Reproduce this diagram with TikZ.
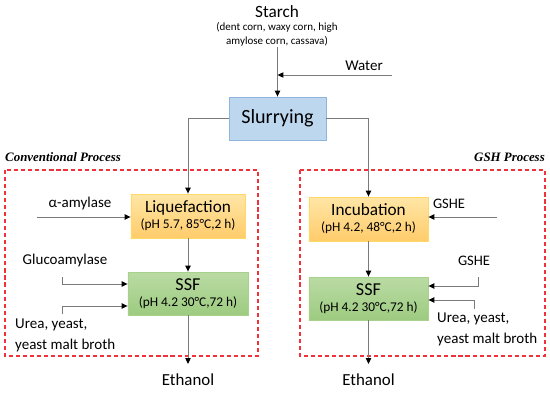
\documentclass[tikz,border=0pt]{standalone}
\usepackage{fontspec}
\setmainfont{Carlito}
\newfontfamily\titlefont{Liberation Serif}
\usepackage{tikz}
\usetikzlibrary{arrows.meta,positioning,calc}
\definecolor{slurfill}{HTML}{BDD7EE}
\definecolor{slurline}{HTML}{8FB4DE}
\definecolor{liqtop}{HTML}{FFE6A6}
\definecolor{liqbot}{HTML}{FFCC6B}
\definecolor{liqline}{HTML}{FFD966}
\definecolor{ssftop}{HTML}{BADBA4}
\definecolor{ssfbot}{HTML}{9DCB80}
\definecolor{ssfline}{HTML}{A9D18E}
\definecolor{flow}{HTML}{7A7A7A}
\definecolor{frame}{HTML}{F0323A}
\newcommand\condfont{\fontsize{11.4}{13}\selectfont}

\tikzset{
  flowarrow/.style={draw=flow, line width=0.8pt, -{Triangle[length=5pt, width=4.5pt, color=black]}},
  procbox/.style={align=center, inner sep=0pt, line width=0.7pt},
  liqbox/.style={procbox, draw=liqline, top color=liqtop, bottom color=liqbot},
  ssfbox/.style={procbox, draw=ssfline, top color=ssftop, bottom color=ssfbot},
  frame/.style={draw=frame, line width=0.9pt, dash pattern=on 3.5pt off 2.5pt},
  lbl/.style={font=\fontsize{12.8}{15}\selectfont, inner sep=0pt},
  product/.style={font=\fontsize{14.4}{16}\selectfont, inner xsep=0pt, inner ysep=8.5pt, anchor=north}
}

\begin{document}
\begin{tikzpicture}[x=0.03cm, y=-0.03cm]
\useasboundingbox (0,0) rectangle (550,393);

% feed
\node[font=\fontsize{14.7}{16}\selectfont, inner sep=0pt] (starch) at (277,12) {Starch};
\node[font=\fontsize{9.4}{12.5}\selectfont, align=center, inner sep=0pt, below=3pt of starch] (starchsub) {(dent corn, waxy corn, high\\amylose corn, cassava)};
\node[procbox, draw=slurline, fill=slurfill, minimum width=2.91cm, minimum height=1.29cm,
      font=\fontsize{17.2}{20}\selectfont] (slurry) at (277.5,118.5) {Slurrying};
\node[lbl, anchor=south east] (water) at (383,71) {Water};
\coordinate (waterin) at (392,75);

\draw[flowarrow] (starchsub.south -| slurry.north) -- (slurry.north);
\draw[flowarrow] (waterin) -- (waterin -| slurry.north);

% process frames
\draw[frame] (5,170) rectangle (258,356);
\draw[frame] (300,170) rectangle (545,356);
\node[anchor=west, inner sep=0pt, font=\titlefont\bfseries\itshape\fontsize{11}{13}\selectfont] (convtitle) at (5,157) {Conventional Process};
\node[anchor=east, inner sep=0pt, font=\titlefont\bfseries\itshape\fontsize{11}{13}\selectfont] (gshtitle) at (545,157) {GSH Process};

% conventional process
\node[liqbox, minimum width=3.42cm, minimum height=1.32cm] (liq) at (188,216)
  {\fontsize{14.7}{17}\selectfont Liquefaction\\[1.5pt]{\condfont (pH 5.7, 85°C,2 h)}};
\node[ssfbox, minimum width=3.6cm, minimum height=1.29cm] (ssfa) at (188,293.5)
  {\fontsize{15.5}{17}\selectfont SSF\\[1.5pt]{\condfont (pH 4.2 30°C,72 h)}};
\node[product] (etha) at (188,364) {Ethanol};

\node[lbl] (amyl) at (80,204) {α-amylase};
\coordinate (amylin) at (37,217);
\node[lbl] (gluco) at (65,261) {Glucoamylase};
\coordinate (glucoin) at (62,277);
\coordinate (ureain) at (62,314);
\node[lbl, anchor=north west, align=left, font=\fontsize{12.8}{18}\selectfont] (ureaa) at (15,319) {Urea, yeast,\\yeast malt broth};

\draw[flowarrow] (slurry.west) -| (liq.north);
\draw[flowarrow] (amylin) -- (amylin -| liq.west);
\draw[flowarrow] (liq) -- (ssfa);
\draw[flowarrow] (glucoin) |- ($(ssfa.west)+(0,-9.5)$);
\draw[flowarrow] (ureain) |- ($(ssfa.west)+(0,12.5)$);
\draw[flowarrow] (ssfa) -- (etha);

% GSH process
\node[liqbox, minimum width=3.57cm, minimum height=1.32cm] (incub) at (368.5,219)
  {\fontsize{14.7}{17}\selectfont Incubation\\[1.5pt]{\condfont (pH 4.2, 48°C,2 h)}};
\node[ssfbox, minimum width=3.57cm, minimum height=1.29cm] (ssfb) at (368.5,298.5)
  {\fontsize{15.5}{17}\selectfont SSF\\[1.5pt]{\condfont (pH 4.2 30°C,72 h)}};
\node[product] (ethb) at (368.5,364) {Ethanol};

\node[lbl, font=\fontsize{12.4}{15}\selectfont] (gshea) at (449,204) {GSHE};
\coordinate (gsheain) at (497,217);
\node[lbl, font=\fontsize{12.4}{15}\selectfont] (gsheb) at (474,261) {GSHE};
\coordinate (gshebin) at (478,277);
\coordinate (ureabin) at (474,309);
\node[lbl, anchor=north west, align=left, font=\fontsize{12.8}{18}\selectfont] (ureab) at (437,313) {Urea, yeast,\\yeast malt broth};

\draw[flowarrow] (slurry.east) -| (incub.north);
\draw[flowarrow] (gsheain) -- (gsheain -| incub.east);
\draw[flowarrow] (incub) -- (ssfb);
\draw[flowarrow] (gshebin) |- ($(ssfb.east)+(0,-12.5)$);
\draw[flowarrow] (ureabin) |- ($(ssfb.east)+(0,1.5)$);
\draw[flowarrow] (ssfb) -- (ethb);
\end{tikzpicture}
\end{document}
